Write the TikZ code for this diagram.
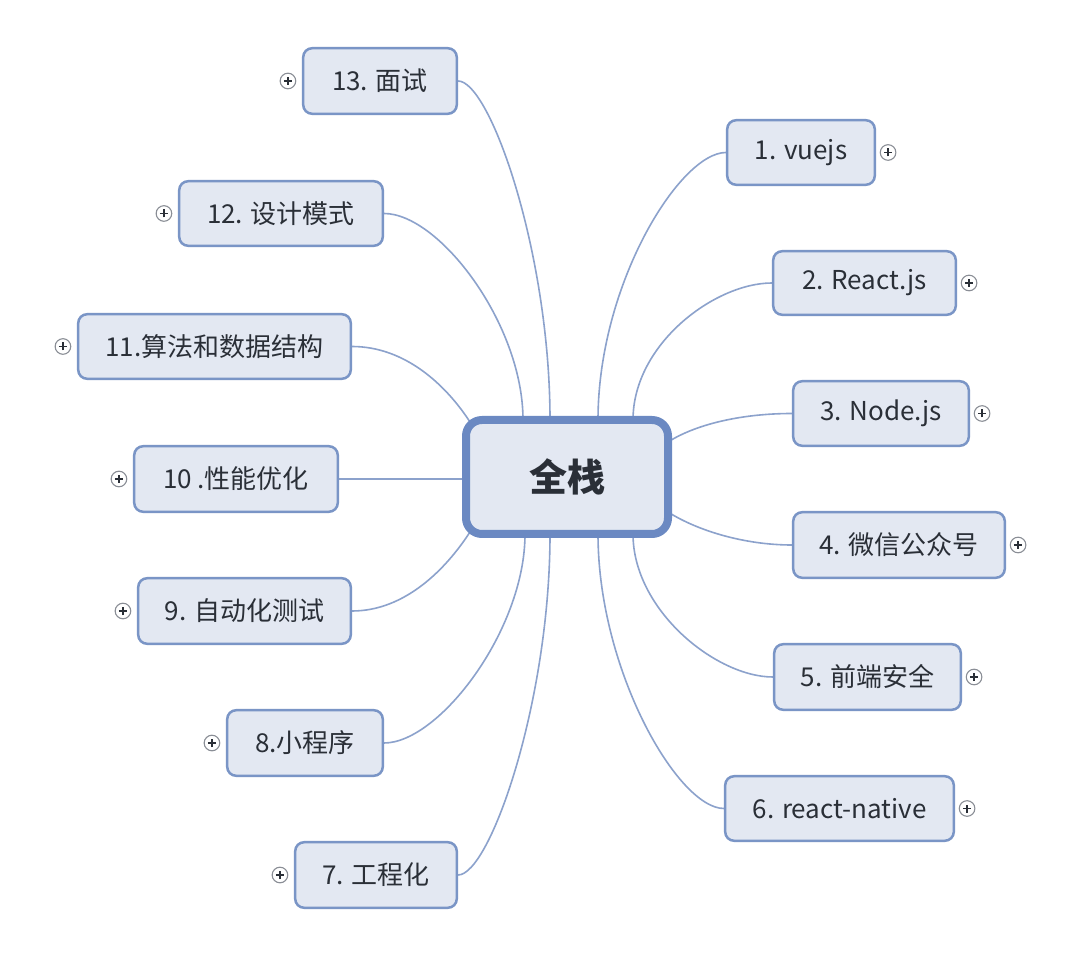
\documentclass[tikz,border=0pt]{standalone}
\usepackage{fontspec}
\setmainfont{Noto Sans CJK SC}
\usetikzlibrary{calc,backgrounds}
\definecolor{boxfill}{HTML}{E3E8F2}
\definecolor{boxline}{HTML}{7A95C6}
\definecolor{rootline}{HTML}{6B89C2}
\definecolor{wire}{HTML}{8CA2CC}
\definecolor{txt}{HTML}{2A2F37}
\definecolor{plusgray}{HTML}{8A8E96}
\tikzset{
  leaf/.style={draw=boxline, fill=boxfill, line width=1.25pt, rounded corners=4.5pt,
    text=txt, font=\fontsize{13}{15}\selectfont, inner sep=0pt, align=center},
  root/.style={draw=rootline, fill=boxfill, line width=4pt, rounded corners=8pt,
    text=txt, font=\fontsize{19}{22}\selectfont\bfseries, inner sep=0pt,
    minimum width=101pt, minimum height=57pt},
  wireline/.style={draw=wire, line width=0.8pt},
  expander/.style={circle, draw=plusgray, fill=white, line width=0.55pt,
    minimum size=7.8pt, inner sep=0pt,
    path picture={
      \draw[txt, line width=0.7pt]
        ([xshift=-2pt]path picture bounding box.center) -- ([xshift=2pt]path picture bounding box.center)
        ([yshift=-2pt]path picture bounding box.center) -- ([yshift=2pt]path picture bounding box.center);
    }}
}
\begin{document}
\begin{tikzpicture}[x=0.5pt, y=-0.5pt]
\useasboundingbox (0,0) rectangle (1080,977);

% root
\node[root] (c) at (567,477) {全栈};

% left branch
\node[leaf, minimum width=76.8pt, minimum height=32.8pt] (n13) at (380,81) {13. 面试};
\node[leaf, minimum width=101.8pt, minimum height=32.3pt] (n12) at (281,213.5) {12. 设计模式};
\node[leaf, minimum width=136.3pt, minimum height=32.3pt] (n11) at (214.5,346.5) {11.算法和数据结构};
\node[leaf, minimum width=101.8pt, minimum height=32.8pt] (n10) at (236,479) {10 .性能优化};
\node[leaf, minimum width=106.3pt, minimum height=32.8pt] (n9) at (244.5,611) {9. 自动化测试};
\node[leaf, minimum width=77.8pt, minimum height=32.8pt] (n8) at (305,743) {8.小程序};
\node[leaf, minimum width=80.8pt, minimum height=32.8pt] (n7) at (376,875) {7. 工程化};

% right branch
\node[leaf, minimum width=73.8pt, minimum height=32.3pt] (n1) at (801,152.5) {1. vuejs};
\node[leaf, minimum width=91.3pt, minimum height=31.8pt] (n2) at (864.5,283) {2. React.js};
\node[leaf, minimum width=87.8pt, minimum height=32.3pt] (n3) at (881,413.5) {3. Node.js};
\node[leaf, minimum width=105.8pt, minimum height=32.8pt] (n4) at (899,545) {4. 微信公众号};
\node[leaf, minimum width=93.3pt, minimum height=32.8pt] (n5) at (867.5,677) {5. 前端安全};
\node[leaf, minimum width=114.3pt, minimum height=32.3pt] (n6) at (839.5,808.5) {6. react-native};

% expanders
\foreach \n in {13,12,11,10,9,8,7}{
  \node[expander] (e\n) at ($(n\n.west)+(-14,0)$) {};
}
\foreach \n in {1,2,3,4,5,6}{
  \node[expander] (e\n) at ($(n\n.east)+(12,0)$) {};
}

% attach points on the root border
\coordinate (t11) at ($(c.north west)+(8,6)$);
\coordinate (t12) at ($(c.north west)+(61,4)$);
\coordinate (t13) at ($(c.north west)+(88,4)$);
\coordinate (t1)  at ($(c.north west)+(136,4)$);
\coordinate (t2)  at ($(c.north west)+(171,4)$);
\coordinate (b9)  at ($(c.south west)+(8,-6)$);
\coordinate (b8)  at ($(c.south west)+(63,-4)$);
\coordinate (b7)  at ($(c.south west)+(88,-4)$);
\coordinate (b6)  at ($(c.south west)+(136,-4)$);
\coordinate (b5)  at ($(c.south west)+(171,-4)$);
\coordinate (r3)  at ($(c.east)+(-4,-35)$);
\coordinate (r4)  at ($(c.east)+(-4,35)$);

\begin{scope}[on background layer]
  \fill[white] (0,0) rectangle (1080,977);
  \draw[wireline] (n13.east) .. controls +(32,0) and +(0,-167) .. (t13);
  \draw[wireline] (n12.east) .. controls +(55,0) and +(0,-96) .. (t12);
  \draw[wireline] (n11.east) .. controls +(53,0) and +(-24,-37) .. (t11);
  \draw[wireline] (n10.east) -- (c.west |- n10.east);
  \draw[wireline] (n9.east) .. controls +(53,0) and +(-24,37) .. (b9);
  \draw[wireline] (n8.east) .. controls +(55,0) and +(0,96) .. (b8);
  \draw[wireline] (n7.east) .. controls +(32,0) and +(0,167) .. (b7);
  \draw[wireline] (n1.west) .. controls +(-46,0) and +(0,-136) .. (t1);
  \draw[wireline] (n2.west) .. controls +(-57,0) and +(0,-76) .. (t2);
  \draw[wireline] (n3.west) .. controls +(-47,0) and +(30,-19) .. (r3);
  \draw[wireline] (n4.west) .. controls +(-47,0) and +(30,19) .. (r4);
  \draw[wireline] (n5.west) .. controls +(-57,0) and +(0,76) .. (b5);
  \draw[wireline] (n6.west) .. controls +(-46,0) and +(0,136) .. (b6);
\end{scope}
\end{tikzpicture}
\end{document}
